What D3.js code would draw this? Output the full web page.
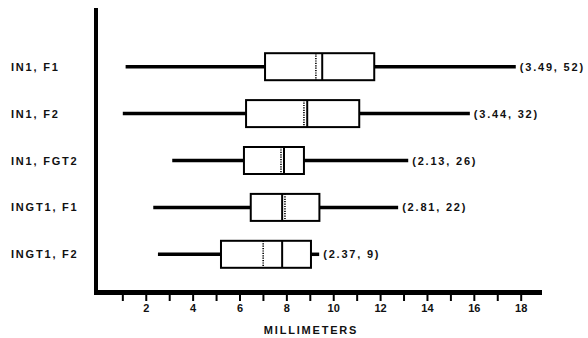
<!DOCTYPE html>
<html><head><meta charset="utf-8">
<script src="https://cdn.jsdelivr.net/npm/d3@7"></script>
<style>
html,body{margin:0;padding:0;background:#fff;}
text{font-family:Arial,"Liberation Sans",sans-serif;font-weight:bold;fill:#111;}
</style></head>
<body><svg id="c" width="588" height="338"></svg>
<script>
const categories = ["IN1, F1","IN1, F2","IN1, FGT2","INGT1, F1","INGT1, F2"];
const whiskerLow  = [1.14, 1.02, 3.13, 2.32, 2.52];
const q1          = [7.09, 6.28, 6.19, 6.48, 5.21];
const median      = [9.53, 8.89, 7.90, 7.82, 7.82];
const mean        = [9.26, 8.75, 7.77, 7.94, 7.01];
const q3          = [11.75, 11.11, 8.75, 9.41, 9.05];
const whiskerHigh = [17.79, 15.83, 13.20, 12.77, 9.40];
const annotations = ["(3.49, 52)","(3.44, 32)","(2.13, 26)","(2.81, 22)","(2.37, 9)"];
const tickValues = d3.range(1,19);
const tickLabels = [2,4,6,8,10,12,14,16,18];
const axisTitle = "MILLIMETERS";

const FS = "11px", LS = "1.8px";
const svg = d3.select("#c");
const x = d3.scaleLinear().domain([0,18]).range([98.9,520.7]);
const y = d3.scalePoint().domain(categories).range([66.7,254.3]);
const boxH = 27;

const data = categories.map((c,i)=>({c, lo:whiskerLow[i], q1:q1[i], med:median[i], mean:mean[i], q3:q3[i], hi:whiskerHigh[i], ann:annotations[i]}));

svg.append("line").attr("x1",96).attr("x2",96).attr("y1",8).attr("y2",295)
  .attr("stroke","#000").attr("stroke-width",4);
svg.append("line").attr("x1",94).attr("x2",542).attr("y1",292.5).attr("y2",292.5)
  .attr("stroke","#000").attr("stroke-width",5);

const xAxis = d3.axisBottom(x).tickValues(tickValues).tickSize(6).tickPadding(5)
  .tickFormat(d => tickLabels.includes(d) ? d : "");
const gx = svg.append("g").attr("transform","translate(0,295)").call(xAxis);
gx.select(".domain").remove();
gx.selectAll(".tick line").attr("stroke","#000").attr("stroke-width",2);
gx.selectAll(".tick text").attr("font-size",FS).attr("font-family","Arial, 'Liberation Sans', sans-serif")
  .attr("font-weight","bold").attr("fill","#111").attr("dy","0.71em").attr("y",9);

svg.append("text").attr("x",311).attr("y",330).attr("text-anchor","middle")
  .attr("dominant-baseline","central").attr("font-size",FS).attr("letter-spacing",LS).text(axisTitle);

svg.selectAll(".cat").data(data).enter().append("text")
  .attr("x",11).attr("y",d=>y(d.c)).attr("dominant-baseline","central")
  .attr("font-size",FS).attr("letter-spacing",LS).text(d=>d.c);

const g = svg.selectAll(".bx").data(data).enter().append("g");
g.append("line").attr("x1",d=>x(d.lo)).attr("x2",d=>x(d.q1)).attr("y1",d=>y(d.c)).attr("y2",d=>y(d.c))
  .attr("stroke","#000").attr("stroke-width",3.5);
g.append("line").attr("x1",d=>x(d.q3)).attr("x2",d=>x(d.hi)).attr("y1",d=>y(d.c)).attr("y2",d=>y(d.c))
  .attr("stroke","#000").attr("stroke-width",3.5);
g.append("rect").attr("x",d=>x(d.q1)).attr("y",d=>y(d.c)-boxH/2).attr("width",d=>x(d.q3)-x(d.q1)).attr("height",boxH)
  .attr("fill","#fff").attr("stroke","#000").attr("stroke-width",2);
g.append("line").attr("x1",d=>x(d.mean)).attr("x2",d=>x(d.mean)).attr("y1",d=>y(d.c)-boxH/2).attr("y2",d=>y(d.c)+boxH/2)
  .attr("stroke","#000").attr("stroke-width",1.6).attr("stroke-dasharray","1.2,1.2");
g.append("line").attr("x1",d=>x(d.med)).attr("x2",d=>x(d.med)).attr("y1",d=>y(d.c)-boxH/2).attr("y2",d=>y(d.c)+boxH/2)
  .attr("stroke","#000").attr("stroke-width",2);
g.append("text").attr("x",d=>x(d.hi)+4).attr("y",d=>y(d.c)).attr("dominant-baseline","central")
  .attr("font-size",FS).attr("letter-spacing",LS).text(d=>d.ann);
</script></body></html>
